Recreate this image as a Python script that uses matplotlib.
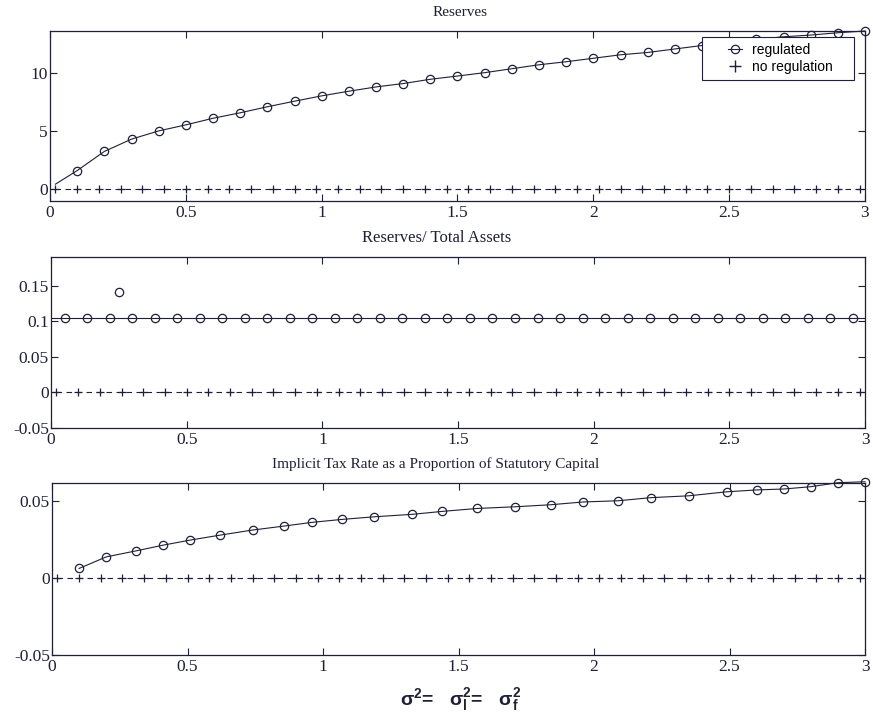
import numpy as np
import matplotlib
matplotlib.use("Agg")
import matplotlib.pyplot as plt
from matplotlib.lines import Line2D
from matplotlib.legend_handler import HandlerLine2D

plt.rcParams['font.family'] = ['Liberation Serif', 'DejaVu Serif']
plt.rcParams['mathtext.fontset'] = 'custom'
plt.rcParams['mathtext.rm'] = 'Liberation Sans:bold'
plt.rcParams['mathtext.it'] = 'Liberation Sans:bold'
plt.rcParams['mathtext.default'] = 'regular'

# --- data ---
# top: Reserves (regulated), line starts at x=0.02, circles every 0.1
res_x = [0.02, 0.1, 0.2, 0.3, 0.4, 0.5, 0.6, 0.7, 0.8, 0.9, 1.0,
         1.1, 1.2, 1.3, 1.4, 1.5, 1.6, 1.7, 1.8, 1.9, 2.0,
         2.1, 2.2, 2.3, 2.4, 2.5, 2.6, 2.7, 2.8, 2.9, 3.0]
res_y = [0.45, 1.62, 3.27, 4.33, 5.04, 5.56, 6.13, 6.6, 7.12, 7.6, 8.06,
         8.46, 8.83, 9.12, 9.49, 9.77, 10.06, 10.4, 10.74, 11.0, 11.3,
         11.6, 11.8, 12.1, 12.4, 12.7, 12.95, 13.15, 13.3, 13.5, 13.65]

# no regulation: zero everywhere, on a 0.08 grid
noreg_x = np.arange(0.02, 3.0, 0.08)
noreg_y = np.zeros(len(noreg_x))

# middle: Reserves / Total Assets (regulated), flat around 0.1
ratio_x = np.round(np.linspace(0.05, 2.955, 36), 3)
ratio_y = np.full(len(ratio_x), 0.105)
ratio_line_x = [0.0, 3.0]
ratio_line_y = [0.105, 0.105]
outlier_x = [0.25]
outlier_y = [0.141]

# bottom: Implicit tax rate (regulated)
tax_x = [0.1, 0.2, 0.31, 0.41, 0.51, 0.62, 0.74, 0.857, 0.96, 1.07,
         1.19, 1.33, 1.44, 1.57, 1.71, 1.84, 1.96, 2.09, 2.21, 2.35,
         2.49, 2.6, 2.7, 2.8, 2.9, 3.0]
tax_y = [0.0061, 0.0136, 0.0175, 0.0212, 0.0245, 0.0277, 0.031, 0.0336, 0.036, 0.0379,
         0.0396, 0.0412, 0.0431, 0.045, 0.0461, 0.0474, 0.0492, 0.050, 0.052, 0.0532,
         0.0558, 0.057, 0.0576, 0.0591, 0.0617, 0.0623]

xticks = [0, 0.5, 1, 1.5, 2, 2.5, 3]
xticklabels = ['0', '0.5', '1', '1.5', '2', '2.5', '3']

ink = '#1f1f3a'
W, H = 873, 725

fig = plt.figure(figsize=(8.73, 7.25), dpi=100)
ax1 = fig.add_axes([50 / W, 1 - 201 / H, 815 / W, 170 / H])
ax2 = fig.add_axes([51 / W, 1 - 428 / H, 814 / W, 171 / H])
ax3 = fig.add_axes([52 / W, 1 - 655 / H, 813 / W, 172 / H])

circ = dict(color=ink, lw=0.8, marker='o', ms=6, mfc='none', mec=ink, mew=0.9)
dots = dict(ls='none', marker='o', ms=6, mfc='none', mec=ink, mew=0.9)
plus = dict(color=ink, lw=0.8, ls=(0, (5, 4)), marker='+', ms=5.5, mew=0.9)

ax1.plot(res_x, res_y, markevery=slice(1, None), clip_on=False, **circ)
ax1.plot(noreg_x, noreg_y, **plus)

ax2.plot(ratio_line_x, ratio_line_y, color=ink, lw=0.8)
ax2.plot(ratio_x, ratio_y, **dots)
ax2.plot(outlier_x, outlier_y, **dots)
ax2.plot(noreg_x, noreg_y, **plus)

ax3.plot(tax_x, tax_y, clip_on=False, **circ)
ax3.plot(noreg_x, noreg_y, **plus)

ax1.set_ylim(-1, 13.65)
ax1.set_yticks([0, 5, 10])
ax2.set_ylim(-0.05, 0.19)
ax2.set_yticks([-0.05, 0, 0.05, 0.1, 0.15])
ax2.set_yticklabels(['-0.05', '0', '0.05', '0.1', '0.15'])
ax3.set_ylim(-0.05, 0.0615)
ax3.set_yticks([-0.05, 0, 0.05])
ax3.set_yticklabels(['-0.05', '0', '0.05'])

titles = ['Reserves', 'Reserves/ Total Assets',
          'Implicit Tax Rate as a Proportion of Statutory Capital']
title_x = [0.503, 0.474, 0.472]
title_size = [11, 12, 11]
for ax, t, tx, ts in zip([ax1, ax2, ax3], titles, title_x, title_size):
    ax.set_xlim(0, 3)
    ax.set_xticks(xticks)
    ax.set_xticklabels(xticklabels)
    ax.tick_params(direction='in', top=True, right=True, length=5, width=0.8,
                   labelsize=12.5, colors=ink)
    ax.tick_params(axis='y', pad=1.5)
    ax.tick_params(axis='x', pad=3)
    for s in ax.spines.values():
        s.set_color(ink)
        s.set_linewidth(0.9)
    ax.set_title(t, fontsize=ts, color=ink, pad=10.5, x=tx)

reg_proxy = Line2D([], [], **circ)
noreg_proxy = Line2D([], [], color=ink, ls='none', marker='+', ms=8, mew=1.0)
leg = ax1.legend([reg_proxy, noreg_proxy], ['regulated', 'no regulation    '],
                 loc='upper right', bbox_to_anchor=(0.9865, 0.965), borderaxespad=0,
                 prop={'family': 'Liberation Sans', 'size': 10},
                 handler_map={reg_proxy: HandlerLine2D(xpad=1.45),
                              noreg_proxy: HandlerLine2D(xpad=1.45)},
                 handlelength=2.5, handletextpad=0.7, borderpad=0.4, labelspacing=0.25,
                 fancybox=False, framealpha=1, edgecolor=ink)
leg.get_frame().set_linewidth(0.8)

fig.text(0.528, 1 - 700 / H, r'$\sigma^2$=   $\sigma_l^2$=   $\sigma_f^2$',
         ha='center', va='center', fontsize=14, color=ink,
         family='Liberation Sans', weight='bold')

fig.savefig('out.png', dpi=100, facecolor='white')
